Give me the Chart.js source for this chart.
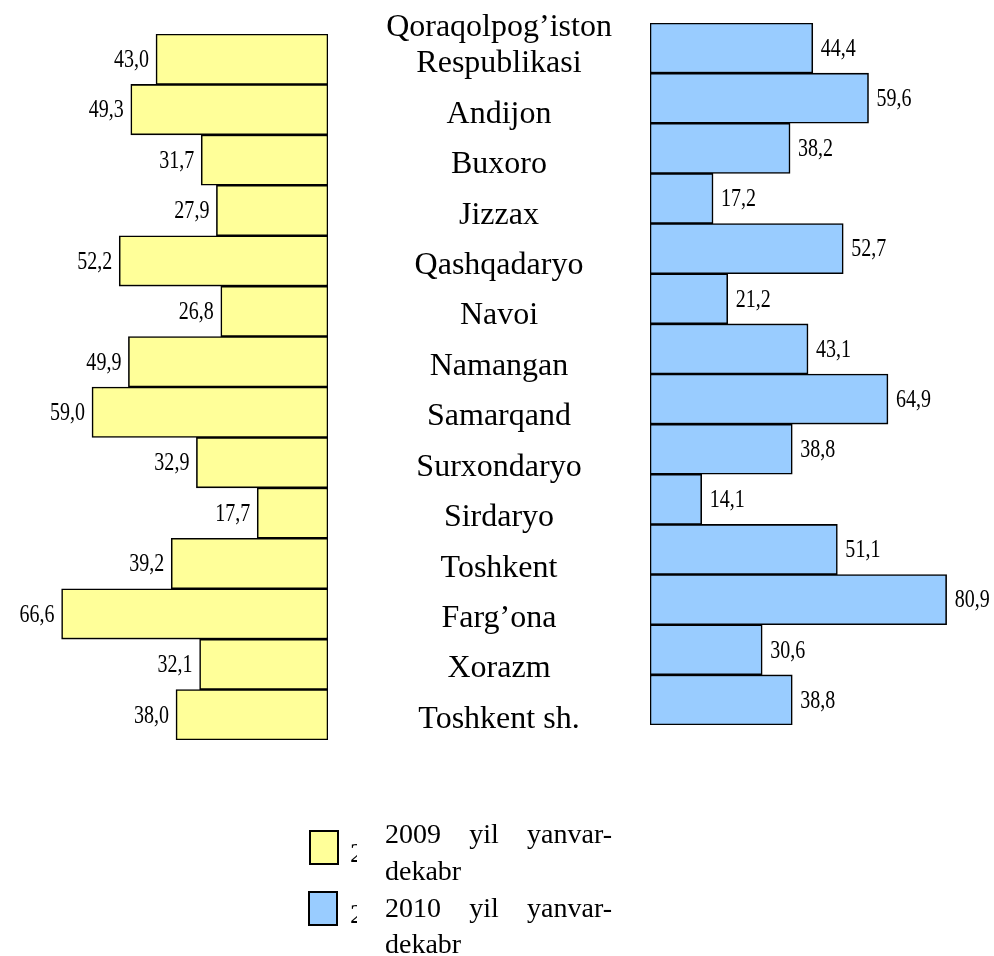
<!DOCTYPE html>
<html><head><meta charset="utf-8">
<script src="https://cdn.jsdelivr.net/npm/chart.js@4.4.0/dist/chart.umd.min.js"></script>
<style>
html,body{margin:0;padding:0;background:#fff;width:994px;height:956px;overflow:hidden;}
#cl{position:absolute;left:0;top:0;}
#cr{position:absolute;left:648px;top:0;}
</style></head><body>
<canvas id="cl" width="668" height="956"></canvas>
<canvas id="cr" width="346" height="956"></canvas>
<script>
const categories = [['Qoraqolpog’iston','Respublikasi'],'Andijon','Buxoro','Jizzax','Qashqadaryo','Navoi','Namangan','Samarqand','Surxondaryo','Sirdaryo','Toshkent','Farg’ona','Xorazm','Toshkent sh.'];
const values2009 = [43.0,49.3,31.7,27.9,52.2,26.8,49.9,59.0,32.9,17.7,39.2,66.6,32.1,38.0];
const values2010 = [44.4,59.6,38.2,17.2,52.7,21.2,43.1,64.9,38.8,14.1,51.1,80.9,30.6,38.8];
const seriesNames = ['2009 yil yanvar-dekabr','2010 yil yanvar-dekabr'];
const seriesColors = ['#FFFF99','#99CCFF'];

const SERIF = '"Liberation Serif","Times New Roman",serif';

const valueLabels = {
  id:'valueLabels',
  afterDatasetsDraw(chart, args, opts){
    const ctx = chart.ctx;
    chart.data.datasets.forEach((ds,di)=>{
      const meta = chart.getDatasetMeta(di);
      meta.data.forEach((bar,i)=>{
        const txt = ds.data[i].toFixed(1).replace('.',',');
        ctx.save();
        ctx.font = '26px ' + SERIF;
        ctx.fillStyle = '#000';
        ctx.textBaseline = 'middle';
        ctx.textAlign = opts.side === 'left' ? 'right' : 'left';
        const x = bar.x + (opts.side === 'left' ? -7 : 8);
        ctx.translate(x, bar.y + 1);
        ctx.scale(0.77, 1);
        ctx.fillText(txt, 0, 0);
        ctx.restore();
      });
    });
  }
};

// category names drawn in the middle column, positioned by the y scale
const categoryLabels = {
  id:'categoryLabels',
  afterDraw(chart){
    const ctx = chart.ctx;
    const ys = chart.scales.y;
    const cx = ys.left + 171;
    ctx.save();
    ctx.font = '32px ' + SERIF;
    ctx.fillStyle = '#000';
    ctx.textAlign = 'center';
    ctx.textBaseline = 'alphabetic';
    chart.data.labels.forEach((lab, i)=>{
      const lines = Array.isArray(lab) ? lab : [lab];
      const base = ys.getPixelForValue(i) + 13;
      lines.forEach((ln, j)=>{
        ctx.fillText(ln, cx, base - (lines.length - 1 - j) * 36);
      });
    });
    ctx.restore();
  }
};

const sideLegend = {
  id:'sideLegend',
  afterDraw(chart, args, opts){
    const ctx = chart.ctx;
    const layout = [
      {box:[310,831,28,33], lines:[843,880], two:862},
      {box:[309,892,28,33], lines:[917,953], two:923}
    ];
    opts.items.forEach((it, k)=>{
      const L = layout[k];
      ctx.save();
      ctx.fillStyle = it.color;
      ctx.fillRect(L.box[0], L.box[1], L.box[2], L.box[3]);
      ctx.strokeStyle = '#000';
      ctx.lineWidth = 2;
      ctx.strokeRect(L.box[0], L.box[1], L.box[2], L.box[3]);
      ctx.font = '28px ' + SERIF;
      ctx.fillStyle = '#000';
      ctx.textBaseline = 'alphabetic';
      ctx.save();
      ctx.beginPath(); ctx.rect(348, L.two - 30, 9, 40); ctx.clip();
      ctx.fillText(it.text.charAt(0), 350, L.two);
      ctx.restore();
      const cut = it.text.indexOf('-') + 1;
      const first = it.text.slice(0, cut), second = it.text.slice(cut);
      const words = first.split(' ');
      const widths = words.map(w => ctx.measureText(w).width);
      const total = widths.reduce((a,b)=>a+b,0);
      const gap = (227 - total) / (words.length - 1);
      let x = 385;
      words.forEach((w,i)=>{ ctx.fillText(w, x, L.lines[0]); x += widths[i] + gap; });
      ctx.fillText(second, 385, L.lines[1]);
      ctx.restore();
    });
  }
};

new Chart(document.getElementById('cl'), {
  type:'bar',
  data:{
    labels: categories,
    datasets:[{
      label: seriesNames[0],
      data: values2009,
      backgroundColor: seriesColors[0],
      borderColor:'#000',
      borderWidth:1.6,
      borderSkipped:false,
      barPercentage:1,
      categoryPercentage:1
    }]
  },
  options:{
    responsive:false,
    animation:false,
    indexAxis:'y',
    layout:{padding:{left:20, right:0, top:34, bottom:216}},
    scales:{
      x:{display:false, reverse:true, min:0, max:77},
      y:{
        position:'right',
        grid:{display:false, drawTicks:false},
        border:{display:false},
        ticks:{display:false},
        afterFit(scale){
          scale.width = 340;
          scale.paddingTop = 0; scale.paddingBottom = 0;
        }
      }
    },
    plugins:{
      legend:{display:false},
      tooltip:{enabled:false},
      valueLabels:{side:'left'},
      sideLegend:{items: seriesNames.map((t,i)=>({text:t, color:seriesColors[i]}))}
    }
  },
  plugins:[valueLabels, categoryLabels, sideLegend]
});

new Chart(document.getElementById('cr'), {
  type:'bar',
  data:{
    labels: categories,
    datasets:[{
      label: seriesNames[1],
      data: values2010,
      backgroundColor: seriesColors[1],
      borderColor:'#000',
      borderWidth:1.6,
      borderSkipped:false,
      barPercentage:1,
      categoryPercentage:1
    }]
  },
  options:{
    responsive:false,
    animation:false,
    indexAxis:'y',
    layout:{padding:{left:2, right:14, top:23, bottom:231}},
    scales:{
      x:{display:false, min:0, max:90},
      y:{display:false}
    },
    plugins:{
      legend:{display:false},
      tooltip:{enabled:false},
      valueLabels:{side:'right'}
    }
  },
  plugins:[valueLabels]
});
</script>
</body></html>
